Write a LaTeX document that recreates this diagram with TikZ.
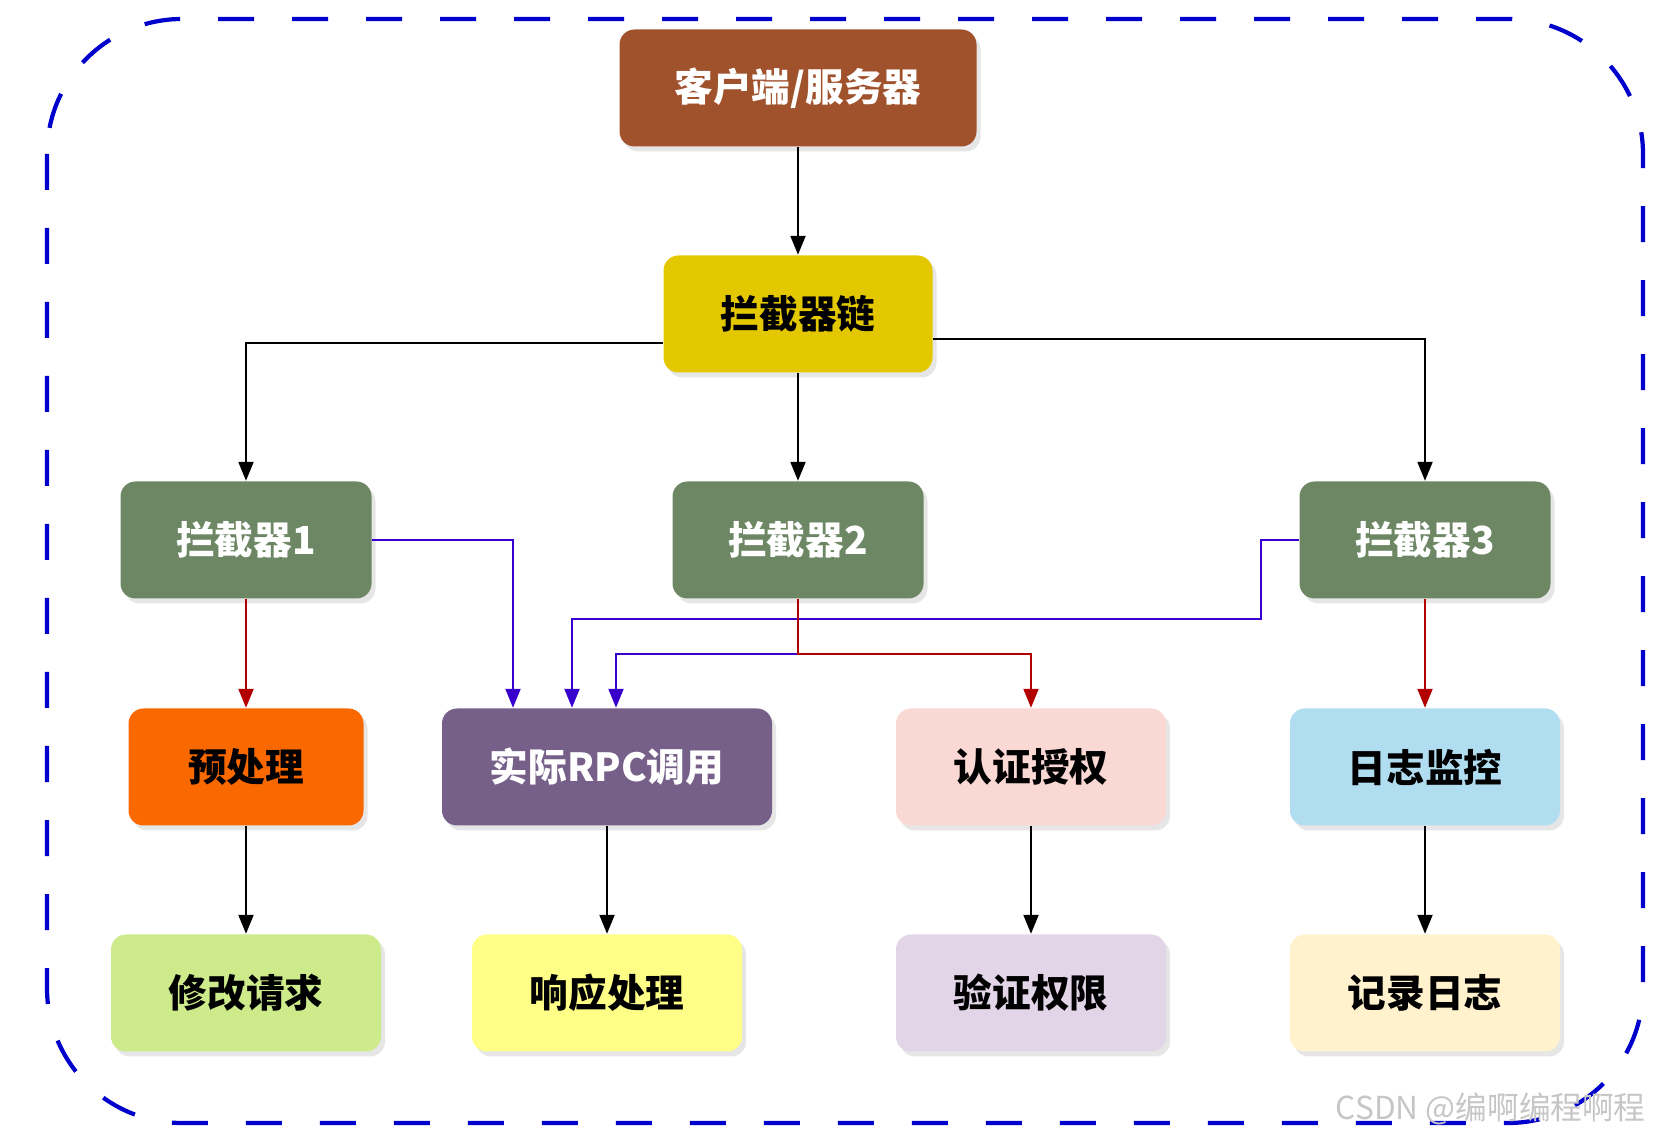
\documentclass[tikz,border=0pt]{standalone}
\usepackage{fontspec}
\setmainfont{Noto Sans CJK SC}
\usetikzlibrary{arrows.meta,shadows}

\definecolor{clientc}{HTML}{A0522D}
\definecolor{chainc}{HTML}{E3C800}
\definecolor{interc}{HTML}{6D8764}
\definecolor{prec}{HTML}{FA6800}
\definecolor{rpcc}{HTML}{76608A}
\definecolor{authc}{HTML}{FAD9D5}
\definecolor{logc}{HTML}{B1DDF0}
\definecolor{modc}{HTML}{CDEB8B}
\definecolor{respc}{HTML}{FFFF88}
\definecolor{permc}{HTML}{E1D5E7}
\definecolor{recc}{HTML}{FFF2CC}
\definecolor{bluec}{HTML}{3700CC}
\definecolor{redc}{HTML}{B20000}
\definecolor{framec}{HTML}{0000CC}

\tikzset{
  box/.style={rounded corners=0.15cm, minimum height=1.17cm, inner sep=0pt,
    font=\fontsize{11}{13}\selectfont\bfseries,
    drop shadow={opacity=0.2, shadow xshift=0.04cm, shadow yshift=-0.05cm}},
  conn/.style={line width=0.6pt, -{Triangle[length=0.19cm, width=0.15cm]}},
  blackline/.style={conn, black},
  blueline/.style={conn, bluec},
  redline/.style={conn, redc}
}

\begin{document}
\begin{tikzpicture}
    \useasboundingbox (0,0) rectangle (16.62,-11.41);

    % Dashed frame
    \draw[framec, line width=1.2pt, dash pattern=on 0.36cm off 0.38cm, rounded corners=1.35cm]
      (0.47,-0.19) rectangle (16.43,-11.23);

    % Top levels
    \node[box, fill=clientc, text=white, minimum width=3.57cm] (client) at (7.98,-0.88) {客户端/服务器};
    \node[box, fill=chainc, minimum width=2.69cm] (chain) at (7.98,-3.14) {拦截器链};

    % Interceptors
    \node[box, fill=interc, text=white, minimum width=2.51cm] (int1) at (2.46,-5.40) {拦截器1};
    \node[box, fill=interc, text=white, minimum width=2.51cm] (int2) at (7.98,-5.40) {拦截器2};
    \node[box, fill=interc, text=white, minimum width=2.51cm] (int3) at (14.25,-5.40) {拦截器3};

    % Processing steps
    \node[box, fill=prec, minimum width=2.35cm] (pre) at (2.46,-7.67) {预处理};
    \node[box, fill=rpcc, text=white, minimum width=3.30cm] (rpc) at (6.07,-7.67) {实际RPC调用};
    \node[box, fill=authc, minimum width=2.70cm] (auth) at (10.31,-7.67) {认证授权};
    \node[box, fill=logc, minimum width=2.70cm] (log) at (14.25,-7.67) {日志监控};

    % Results
    \node[box, fill=modc, minimum width=2.70cm] (mod) at (2.46,-9.93) {修改请求};
    \node[box, fill=respc, minimum width=2.70cm] (resp) at (6.07,-9.93) {响应处理};
    \node[box, fill=permc, minimum width=2.70cm] (perm) at (10.31,-9.93) {验证权限};
    \node[box, fill=recc, minimum width=2.70cm] (rec) at (14.25,-9.93) {记录日志};

    % Black connectors
    \draw[blackline] (client) -- (chain);
    \draw[blackline] (chain) -- (int2);
    \draw[blackline] ([yshift=-0.29cm]chain.west) -| (int1);
    \draw[blackline] ([yshift=-0.25cm]chain.east) -| (int3);
    \draw[blackline] (pre) -- (mod);
    \draw[blackline] (rpc) -- (resp);
    \draw[blackline] (auth) -- (perm);
    \draw[blackline] (log) -- (rec);

    % Interceptors to steps
    \draw[redline] (int1) -- (pre);
    \draw[redline] (int3) -- (log);
    \draw[blueline] (int1.east) -| ([xshift=-0.94cm]rpc.north);
    \draw[blueline] (int3.west) -- ++(-0.38,0) -- ++(0,-0.79) -| ([xshift=-0.35cm]rpc.north);
    \draw[blueline] (int2.south) -- ++(0,-0.55) -| ([xshift=0.09cm]rpc.north);
    \draw[redline] (int2.south) -- ++(0,-0.55) -| (auth.north);

    % Watermark
    \node[text=gray!45, font=\fontsize{9}{11}\selectfont, anchor=east] (mark) at (16.58,-11.09) {CSDN @编啊编程啊程};
\end{tikzpicture}
\end{document}
